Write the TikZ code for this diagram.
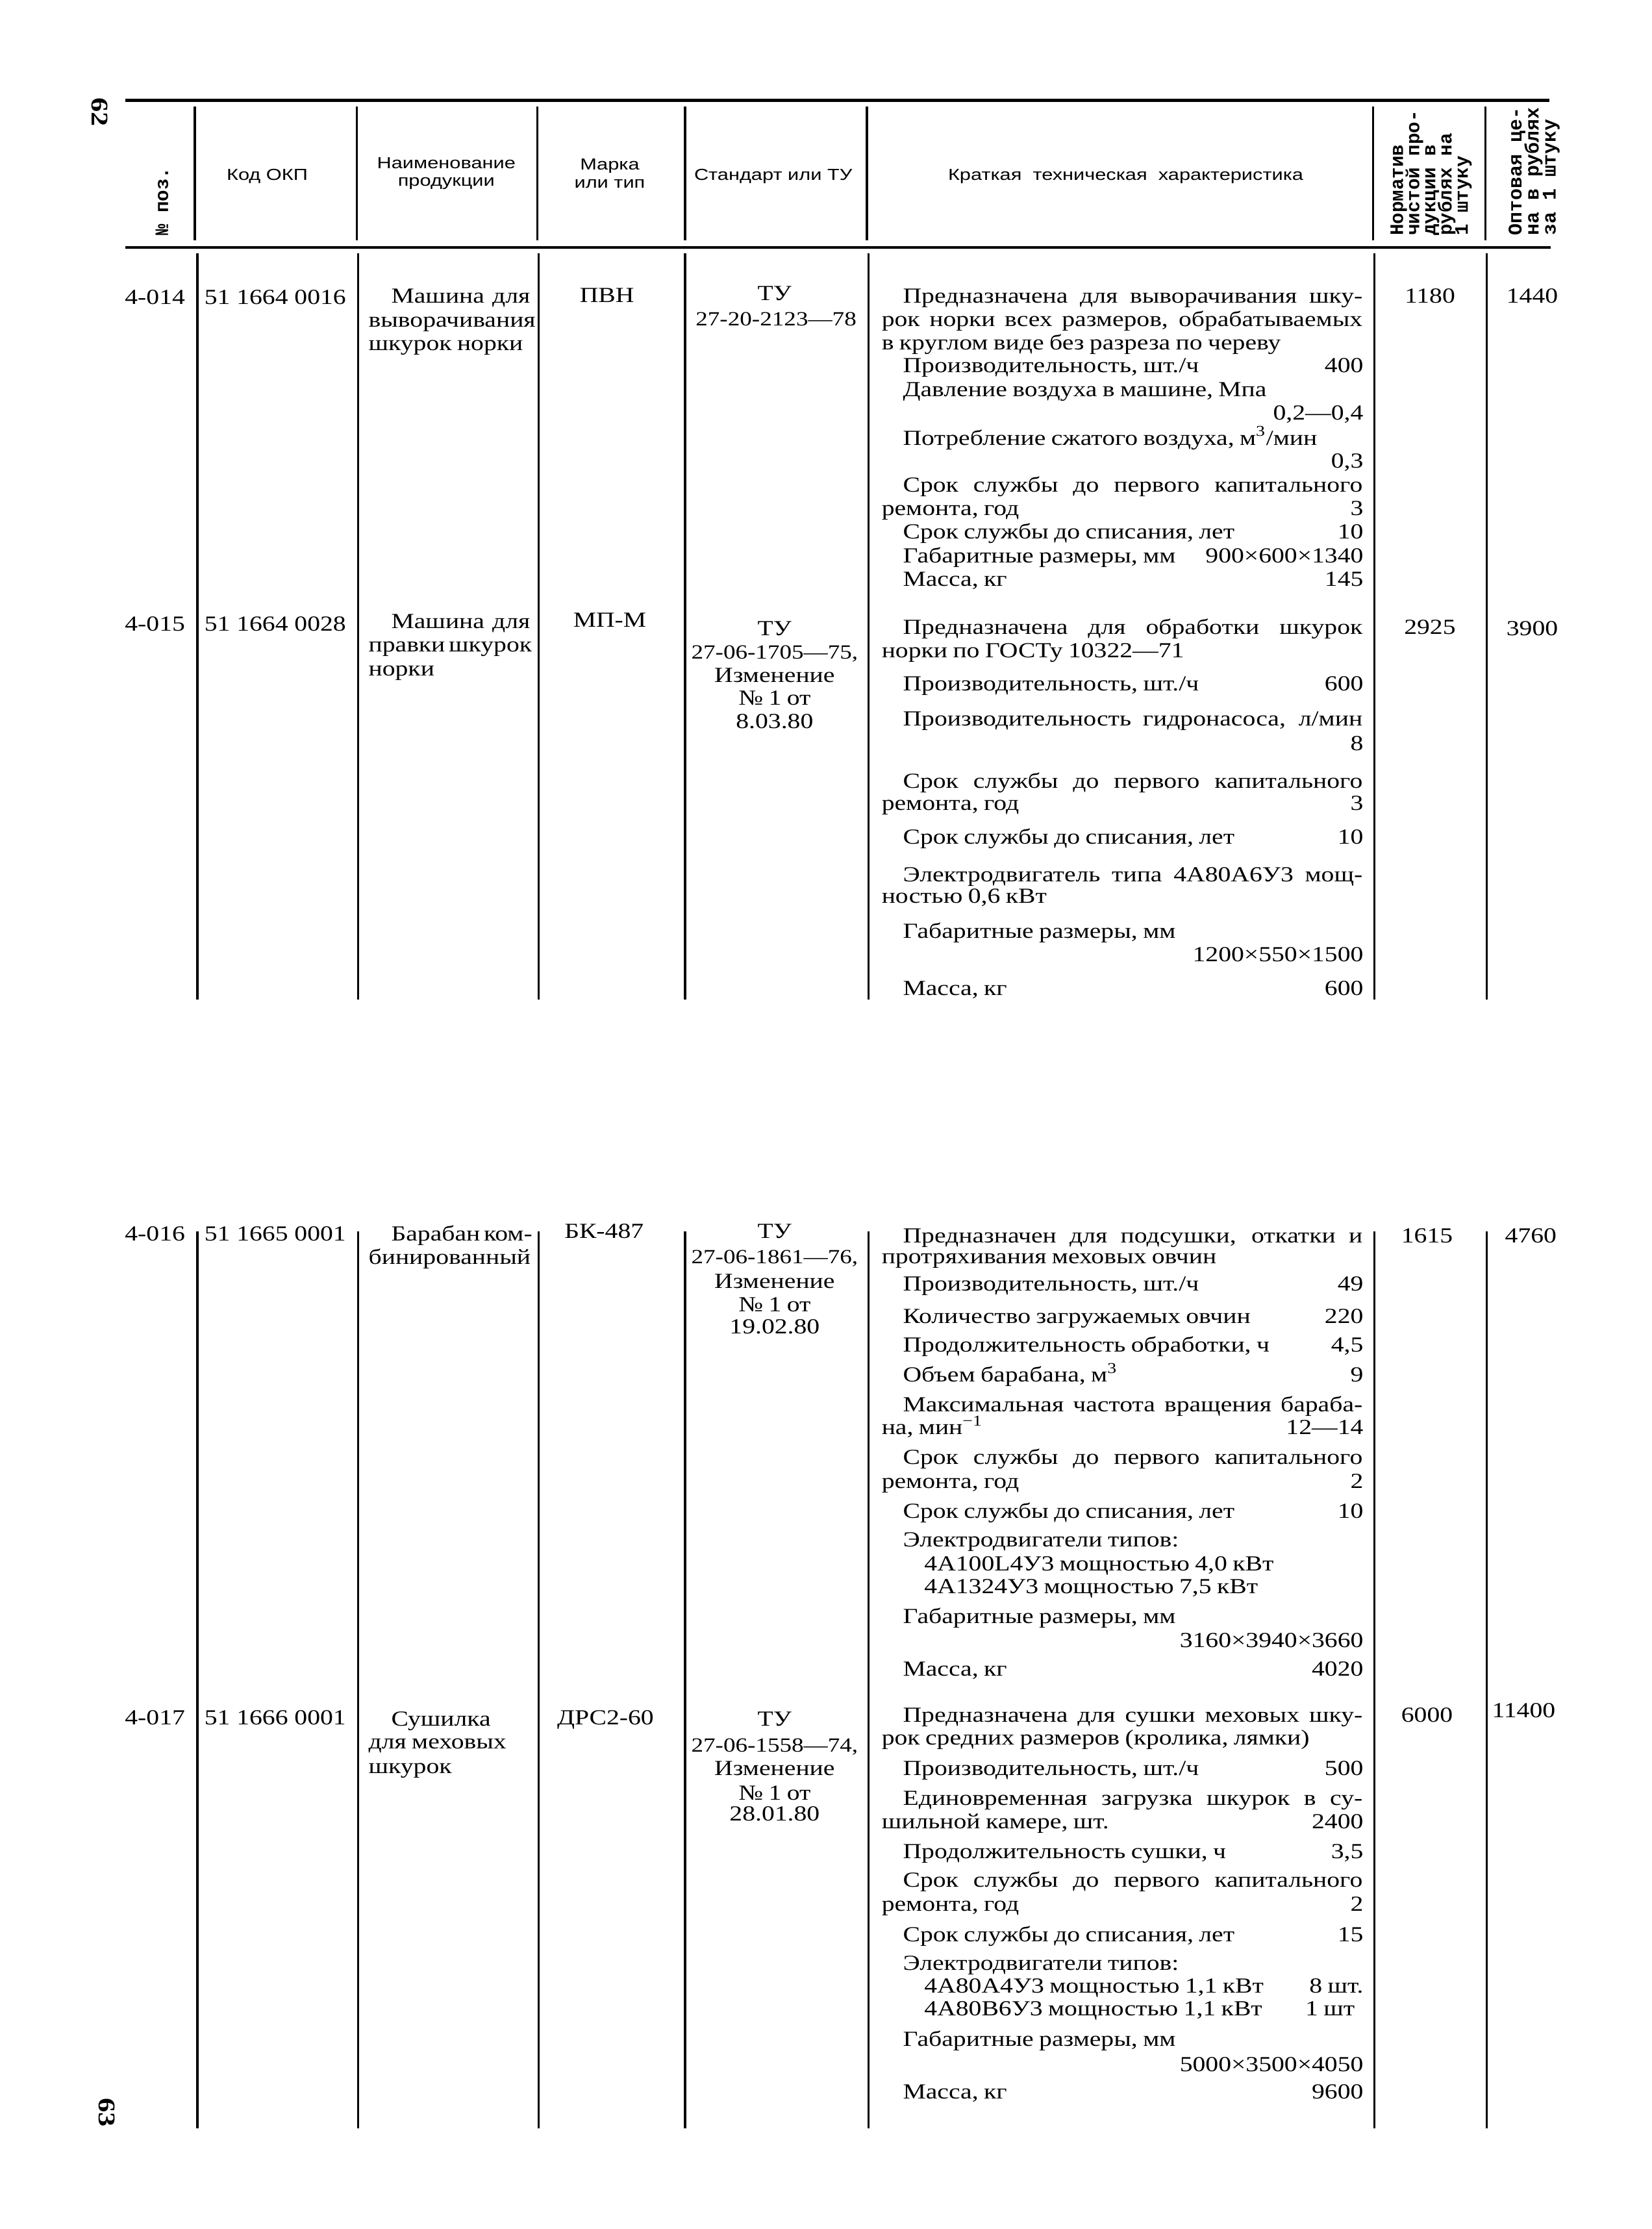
\documentclass[tikz,border=0pt]{standalone}
\usepackage{fontspec}
\setmainfont[FakeStretch=1.2]{Liberation Serif}
\newfontfamily\headfamily[FakeStretch=1.25]{Liberation Sans}
\newfontfamily\vertfamily{Liberation Mono}
\newcommand\txtfnt{\fontsize{9.4}{10.2}\selectfont\spaceskip=2.4pt plus 3pt minus 0.8pt\relax}
\newcommand\stdfnt{\fontsize{8.8}{10.2}\selectfont}
\newcommand\hdfnt{\headfamily\fontsize{7}{7.8}\selectfont}
\newcommand\vhfnt{\vertfamily\bfseries\fontsize{8.3}{7.1}\selectfont\lineskiplimit=-20pt\relax}
\newcommand\vhwfnt{\vertfamily\bfseries\fontsize{8.5}{7.5}\selectfont\lineskiplimit=-20pt\relax}
\newcommand\pagenofnt{\fontsize{10.5}{12}\selectfont\bfseries}
% justified lines of the description column
\newcommand\jind[1]{\makebox[201.3pt][s]{#1}}
\newcommand\jfull[1]{\makebox[210.6pt][s]{#1}}
\newcommand\jname[1]{\makebox[60.8pt][s]{#1}}
\newcommand\jnamec[1]{\makebox[70.7pt][s]{#1}}
\newcommand\okp[3]{#1\hspace{2.8pt}#2\hspace{2.8pt}#3}

\begin{document}
\begin{tikzpicture}[x=0.021885cm, y=-0.021885cm,
  txt/.style={font=\txtfnt, inner sep=0pt, anchor=base west},
  val/.style={font=\txtfnt, inner sep=0pt, anchor=base east},
  mid/.style={font=\txtfnt, inner sep=0pt, anchor=base},
  stdnum/.style={mid, font=\stdfnt},
  hd/.style={font=\hdfnt, inner sep=0pt, align=center},
  vhd/.style={font=\vhfnt, inner sep=0pt, rotate=90, align=left, anchor=north west},
  pageno/.style={font=\pagenofnt, inner sep=0pt, rotate=-90},
  rulel/.style={line width=1.3pt},
  coll/.style={line width=1pt}]

\useasboundingbox (0,0) rectangle (1162,1568);

% rules and column lines
\draw[rulel] (88,70.5) -- (1090,70.5);
\draw[rulel] (88,174) -- (1091,174);
\foreach \cx in {137,251,378,482,610,966,1045}
  \draw[coll] (\cx,75) -- (\cx,169);
\foreach \cx in {139,252,379,482,611,967,1046} {
  \draw[coll] (\cx,178) -- (\cx,703);
  \draw[coll] (\cx,866) -- (\cx,1497);
}

% header
\node[pageno] (pg62) at (70,79) {62};
\node[vhd, anchor=west] (hpos) at (114,166) {№ поз.};
\node[hd] (hkod) at (188,124) {Код ОКП};
\node[hd] (hname) at (314,122) {Наименование\\продукции};
\node[hd] (hmark) at (429,122) {Марка\\или тип};
\node[hd] (hstd) at (544,124) {Стандарт или ТУ};
\node[hd] (hchar) at (792,124) {Краткая~~техническая~~характеристика};
\node[vhd] (hnorm) at (978,166) {Норматив\\чистой про-\\дукции в\\рублях на\\1 штуку};
\node[vhd, font=\vhwfnt] (hopt) at (1061,166) {Оптовая це-\\на в рублях\\за 1 штуку};

% 4-014
\node[val] (p14) at (130.5,214) {4-014};
\node[txt] (k14) at (143.5,214) {\okp{51}{1664}{0016}};
\node[txt] (m14a) at (275,213) {\jname{Машина для}};
\node[txt] (m14b) at (259,230) {выворачивания};
\node[txt] (m14c) at (259,246.5) {шкурок норки};
\node[mid] (t14) at (427,212.5) {ПВН};
\node[mid] (s14a) at (545,211.5) {ТУ};
\node[stdnum] (s14b) at (546,229) {27-20-2123—78};
\node[txt] (d14a) at (635,213) {\jind{Предназначена для выворачивания шку-}};
\node[txt] (d14b) at (620,229.5) {\jfull{рок норки всех размеров, обрабатываемых}};
\node[txt] (d14c) at (620,246) {в круглом виде без разреза по череву};
\node[txt] (d14d) at (635,262) {Производительность, шт./ч};
\node[val] (v14d) at (959.5,262) {400};
\node[txt] (d14e) at (635,279) {Давление воздуха в машине, Мпа};
\node[val] (v14e) at (959.5,295.5) {0,2—0,4};
\node[txt] (d14f) at (635,313) {Потребление сжатого воздуха, м\textsuperscript{3}/мин};
\node[val] (v14f) at (959.5,329) {0,3};
\node[txt] (d14g) at (635,346) {\jind{Срок службы до первого капитального}};
\node[txt] (d14h) at (620,362.5) {ремонта, год};
\node[val] (v14h) at (959.5,362.5) {3};
\node[txt] (d14i) at (635,379) {Срок службы до списания, лет};
\node[val] (v14i) at (959.5,379) {10};
\node[txt] (d14j) at (635,396) {Габаритные размеры, мм};
\node[val] (v14j) at (959.5,396) {900×600×1340};
\node[txt] (d14k) at (635,412.5) {Масса, кг};
\node[val] (v14k) at (959.5,412.5) {145};
\node[mid] (n14) at (1006,213) {1180};
\node[mid] (o14) at (1078,213) {1440};

% 4-015
\node[val] (p15) at (130.5,444) {4-015};
\node[txt] (k15) at (143.5,444) {\okp{51}{1664}{0028}};
\node[txt] (m15a) at (275,442) {\jname{Машина для}};
\node[txt] (m15b) at (259,458.5) {\jnamec{правки шкурок}};
\node[txt] (m15c) at (259,475.5) {норки};
\node[mid] (t15) at (429,441) {МП-М};
\node[mid] (s15a) at (545,447) {ТУ};
\node[stdnum] (s15b) at (545,463.5) {27-06-1705—75,};
\node[mid] (s15c) at (545,480) {Изменение};
\node[mid] (s15d) at (545,496) {№ 1 от};
\node[mid] (s15e) at (545,512.5) {8.03.80};
\node[txt] (d15a) at (635,446) {\jind{Предназначена для обработки шкурок}};
\node[txt] (d15b) at (620,462.5) {норки по ГОСТу 10322—71};
\node[txt] (d15c) at (635,486) {Производительность, шт./ч};
\node[val] (v15c) at (959.5,486) {600};
\node[txt] (d15d) at (635,510.5) {\jind{Производительность гидронасоса, л/мин}};
\node[val] (v15d) at (959.5,528) {8};
\node[txt] (d15e) at (635,554.5) {\jind{Срок службы до первого капитального}};
\node[txt] (d15f) at (620,570) {ремонта, год};
\node[val] (v15f) at (959.5,570) {3};
\node[txt] (d15g) at (635,593.5) {Срок службы до списания, лет};
\node[val] (v15g) at (959.5,593.5) {10};
\node[txt] (d15h) at (635,620) {\jind{Электродвигатель типа 4А80А6У3 мощ-}};
\node[txt] (d15i) at (620,635.5) {ностью 0,6 кВт};
\node[txt] (d15j) at (635,660) {Габаритные размеры, мм};
\node[val] (v15j) at (959.5,676.5) {1200×550×1500};
\node[txt] (d15k) at (635,700) {Масса, кг};
\node[val] (v15k) at (959.5,700) {600};
\node[mid] (n15) at (1006,446) {2925};
\node[mid] (o15) at (1078,447) {3900};

% 4-016
\node[val] (p16) at (130.5,873) {4-016};
\node[txt] (k16) at (143.5,873) {\okp{51}{1665}{0001}};
\node[txt] (m16a) at (275,873) {\jname{Барабан ком-}};
\node[txt] (m16b) at (259,889.5) {бинированный};
\node[mid] (t16) at (425,871) {БК-487};
\node[mid] (s16a) at (545,871) {ТУ};
\node[stdnum] (s16b) at (545,889) {27-06-1861—76,};
\node[mid] (s16c) at (545,906) {Изменение};
\node[mid] (s16d) at (545,922.5) {№ 1 от};
\node[mid] (s16e) at (545,938) {19.02.80};
\node[txt] (d16a) at (635,874) {\jind{Предназначен для подсушки, откатки и}};
\node[txt] (d16b) at (620,889) {протряхивания меховых овчин};
\node[txt] (d16c) at (635,908) {Производительность, шт./ч};
\node[val] (v16c) at (959.5,908) {49};
\node[txt] (d16d) at (635,931) {Количество загружаемых овчин};
\node[val] (v16d) at (959.5,931) {220};
\node[txt] (d16e) at (635,951) {Продолжительность обработки, ч};
\node[val] (v16e) at (959.5,951) {4,5};
\node[txt] (d16f) at (635,972) {Объем барабана, м\textsuperscript{3}};
\node[val] (v16f) at (959.5,972) {9};
\node[txt] (d16g) at (635,993) {\jind{Максимальная частота вращения бараба-}};
\node[txt] (d16h) at (620,1009) {на, мин\textsuperscript{−1}};
\node[val] (v16h) at (959.5,1009) {12—14};
\node[txt] (d16i) at (635,1030) {\jind{Срок службы до первого капитального}};
\node[txt] (d16j) at (620,1047) {ремонта, год};
\node[val] (v16j) at (959.5,1047) {2};
\node[txt] (d16k) at (635,1068) {Срок службы до списания, лет};
\node[val] (v16k) at (959.5,1068) {10};
\node[txt] (d16l) at (635,1088) {Электродвигатели типов:};
\node[txt] (d16m) at (650,1105) {4А100L4У3 мощностью 4,0 кВт};
\node[txt] (d16n) at (650,1121) {4А1324У3 мощностью 7,5 кВт};
\node[txt] (d16o) at (635,1142) {Габаритные размеры, мм};
\node[val] (v16o) at (959.5,1159) {3160×3940×3660};
\node[txt] (d16p) at (635,1179) {Масса, кг};
\node[val] (v16p) at (959.5,1179) {4020};
\node[mid] (n16) at (1004,874) {1615};
\node[mid] (o16) at (1077,874) {4760};

% 4-017
\node[val] (p17) at (130.5,1213) {4-017};
\node[txt] (k17) at (143.5,1213) {\okp{51}{1666}{0001}};
\node[txt] (m17a) at (275,1214) {Сушилка};
\node[txt] (m17b) at (259,1230) {для меховых};
\node[txt] (m17c) at (259,1247.5) {шкурок};
\node[mid] (t17) at (426,1213) {ДРС2-60};
\node[mid] (s17a) at (545,1214) {ТУ};
\node[stdnum] (s17b) at (545,1232.5) {27-06-1558—74,};
\node[mid] (s17c) at (545,1249) {Изменение};
\node[mid] (s17d) at (545,1266) {№ 1 от};
\node[mid] (s17e) at (545,1281) {28.01.80};
\node[txt] (d17a) at (635,1211.5) {\jind{Предназначена для сушки меховых шку-}};
\node[txt] (d17b) at (620,1227.5) {рок средних размеров (кролика, лямки)};
\node[txt] (d17c) at (635,1249) {Производительность, шт./ч};
\node[val] (v17c) at (959.5,1249) {500};
\node[txt] (d17d) at (635,1270) {\jind{Единовременная загрузка шкурок в су-}};
\node[txt] (d17e) at (620,1286.5) {шильной камере, шт.};
\node[val] (v17e) at (959.5,1286.5) {2400};
\node[txt] (d17f) at (635,1307.5) {Продолжительность сушки, ч};
\node[val] (v17f) at (959.5,1307.5) {3,5};
\node[txt] (d17g) at (635,1327.5) {\jind{Срок службы до первого капитального}};
\node[txt] (d17h) at (620,1344.5) {ремонта, год};
\node[val] (v17h) at (959.5,1344.5) {2};
\node[txt] (d17i) at (635,1366) {Срок службы до списания, лет};
\node[val] (v17i) at (959.5,1366) {15};
\node[txt] (d17j) at (635,1386) {Электродвигатели типов:};
\node[txt] (d17k) at (650,1402) {4А80А4У3 мощностью 1,1 кВт};
\node[val] (v17k) at (959.5,1402) {8 шт.};
\node[txt] (d17l) at (650,1418) {4А80В6У3 мощностью 1,1 кВт};
\node[txt] (v17l) at (918,1418) {1 шт};
\node[txt] (d17m) at (635,1439.5) {Габаритные размеры, мм};
\node[val] (v17m) at (959.5,1457) {5000×3500×4050};
\node[txt] (d17n) at (635,1476.5) {Масса, кг};
\node[val] (v17n) at (959.5,1476.5) {9600};
\node[mid] (n17) at (1004,1211.5) {6000};
\node[mid] (o17) at (1072,1208) {11400};

\node[pageno] (pg63) at (75,1486) {63};
\end{tikzpicture}
\end{document}
